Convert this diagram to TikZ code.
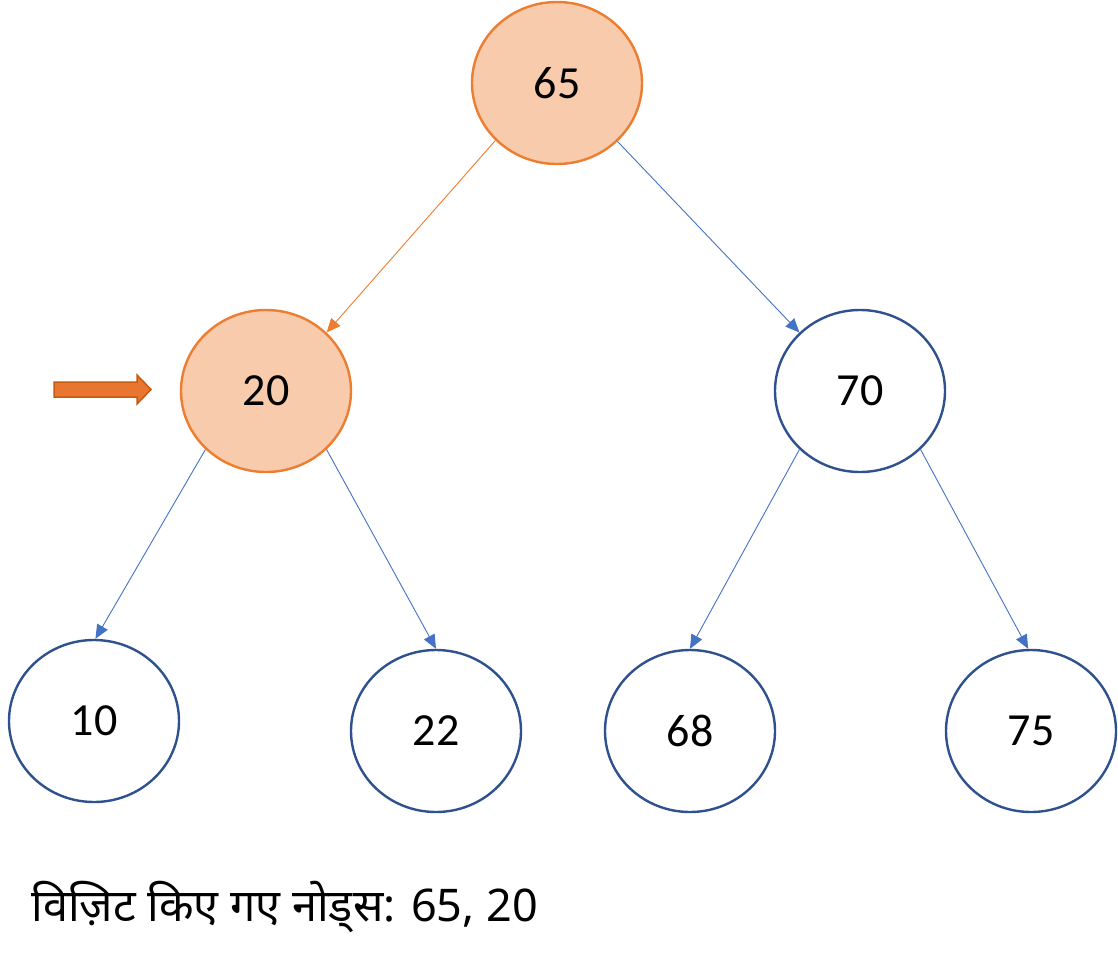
\documentclass[tikz,border=0pt]{standalone}
\usepackage{fontspec}
\setmainfont{Carlito}
\newfontfamily\hindi[Script=Devanagari]{Noto Sans}
\usetikzlibrary{shapes.geometric,arrows.meta}
\definecolor{seenfill}{RGB}{248,203,173}
\definecolor{seenline}{RGB}{237,125,49}
\definecolor{keyline}{RGB}{47,82,143}
\definecolor{linkblue}{RGB}{68,114,196}
\definecolor{ptrfill}{RGB}{232,118,48}
\definecolor{ptrline}{RGB}{197,90,17}
\begin{document}
\begin{tikzpicture}[x=1pt,y=-1pt,
key/.style={%
ellipse,
draw=keyline,
line width=2.4pt,
minimum width=170pt,
minimum height=162pt,
inner sep=0pt,
font=\fontsize{46}{52}\selectfont
},
seen/.style={%
key,
draw=seenline,
fill=seenfill
},
link/.style={%
draw=linkblue,
line width=0.9pt,
-{Triangle[length=14pt,width=12pt]}
},
ptr/.style={%
draw=ptrline,
fill=ptrfill,
line width=1.5pt,
line join=miter
},
]
\useasboundingbox (0,0) rectangle (1118,960);
%% level 0
\node[seen]at(557,83)(k65){65};
%% level 1
\node[seen]at(266,391)(k20){20};
\node[key]at(860,391)(k70){70};
%% level 2
\node[key]at(94,721)(k10){10};
\node[key]at(436,731)(k22){22};
\node[key]at(690,731)(k68){68};
\node[key]at(1031,731)(k75){75};
%% links
\draw[link,draw=seenline](k65.223)--(k20.44);
\draw[link](k65.316)--(k70.136);
\draw[link](k20.224)--(k10.89);
\draw[link](k20.316)--(k22.90);
\draw[link](k70.224)--(k68.90);
\draw[link](k70.316)--(k75.92);
%% current node
\draw[ptr](54,382)--(137,382)--(137,375)--(151,389.5)--(137,404)--(137,397)--(54,397)--cycle;
\node[anchor=base west,font=\hindi\fontsize{45}{48}\selectfont]at(28,921)(trail){विज़िट किए गए नोड्स: 65, 20};
\end{tikzpicture}
\end{document}
